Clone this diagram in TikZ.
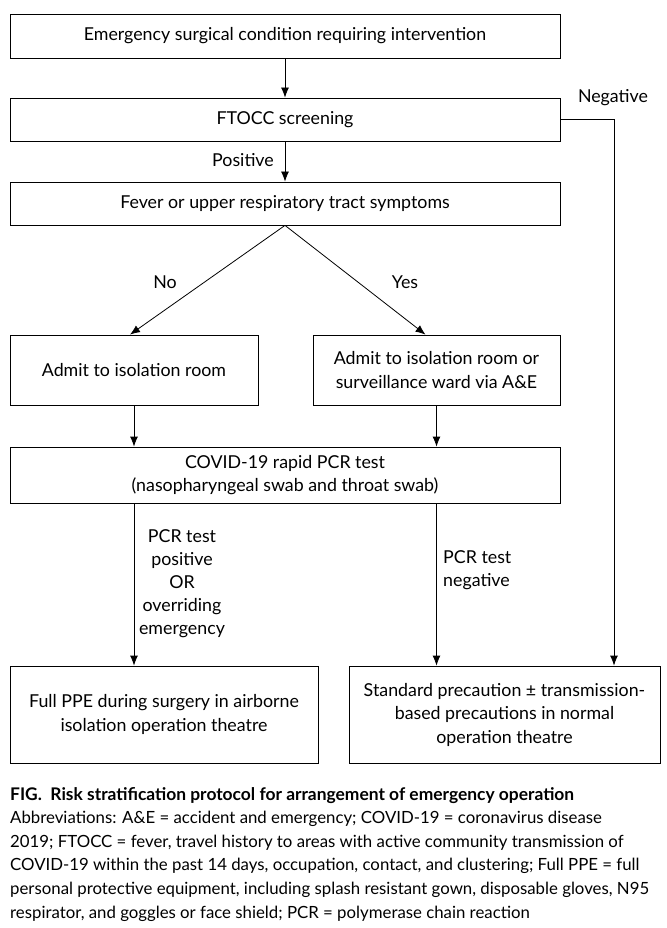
\documentclass[tikz,border=0pt]{standalone}
\usepackage{fontspec}
\setmainfont{Lato}
\usetikzlibrary{arrows.meta,calc}
\begin{document}
\begin{tikzpicture}[x=1pt,y=-1pt,
  box/.style={draw,line width=0.8pt,rectangle,align=center,inner sep=0pt,font=\fontsize{17.8}{23.5}\selectfont},
  lbl/.style={inner sep=0pt,font=\fontsize{17.8}{23}\selectfont},
  arr/.style={line width=0.8pt,-{Latex[length=10pt,width=8pt]}},
  ln/.style={line width=0.8pt}]
\useasboundingbox (0,0) rectangle (666,928);
\node[box,minimum width=550,minimum height=44] (b1) at (285,36) {Emergency surgical condition requiring intervention};
\node[box,minimum width=550,minimum height=43] (b2) at (285,119.5) {FTOCC screening};
\node[box,minimum width=550,minimum height=43] (b3) at (285,203.5) {Fever or upper respiratory tract symptoms};
\node[box,minimum width=248,minimum height=70] (b4) at (134,370) {Admit to isolation room};
\node[box,minimum width=247,minimum height=70] (b5) at (436.5,370) {Admit to isolation room or\\surveillance ward via A\&E};
\node[box,minimum width=550,minimum height=56] (b6) at (285,475) {COVID-19 rapid PCR test\\(nasopharyngeal swab and throat swab)};
\node[box,minimum width=308,minimum height=97] (b7) at (164,714.5) {Full PPE during surgery in airborne\\isolation operation theatre};
\node[box,minimum width=311,minimum height=97] (b8) at (504.5,714.5) {Standard precaution ± transmission-\\based precautions in normal\\operation theatre};

\draw[arr] (b1.south) -- (b2.north);
\draw[arr] (b2.south) -- (b3.north);
\node[lbl] (pos) at (243,160) {Positive};
\draw[arr] (b2.east) -| ([xshift=109.5pt]b8.north);
\node[lbl] (neg) at (613,98) {Negative};
\draw[arr] (b3.south) -- ([xshift=-4pt]b4.north);
\draw[arr] (b3.south) -- ([xshift=-11pt]b5.north);
\node[lbl] (no) at (165,282) {No};
\node[lbl] (yes) at (405,282) {Yes};
\draw[arr] (b4.south) -- (b4.south |- b6.north);
\draw[arr] (b5.south) -- (b5.south |- b6.north);
\draw[arr] (b6.south -| b4.south) -- (b7.north -| b4.south);
\draw[arr] (b6.south -| b5.south) -- (b8.north -| b5.south);
\node[lbl,align=center] (pl) at (182,584) {PCR test\\positive\\OR\\overriding\\emergency};
\node[lbl,align=left,anchor=west,font=\fontsize{17.8}{23.5}\selectfont] (nl) at (443,570) {PCR test\\negative};

\node[anchor=north west,inner sep=0pt,align=left,font=\fontsize{16.8}{23.6}\selectfont] (cap) at (10,787)
{\textbf{\fontsize{17.4}{23.6}\selectfont FIG.\ \ Risk stratification protocol for arrangement of emergency operation}\\
Abbreviations: A\&E = accident and emergency; COVID-19 = coronavirus disease\\
2019; FTOCC = fever, travel history to areas with active community transmission of\\
COVID-19 within the past 14 days, occupation, contact, and clustering; Full PPE = full\\
personal protective equipment, including splash resistant gown, disposable gloves, N95\\
respirator, and goggles or face shield; PCR = polymerase chain reaction};
\end{tikzpicture}
\end{document}
